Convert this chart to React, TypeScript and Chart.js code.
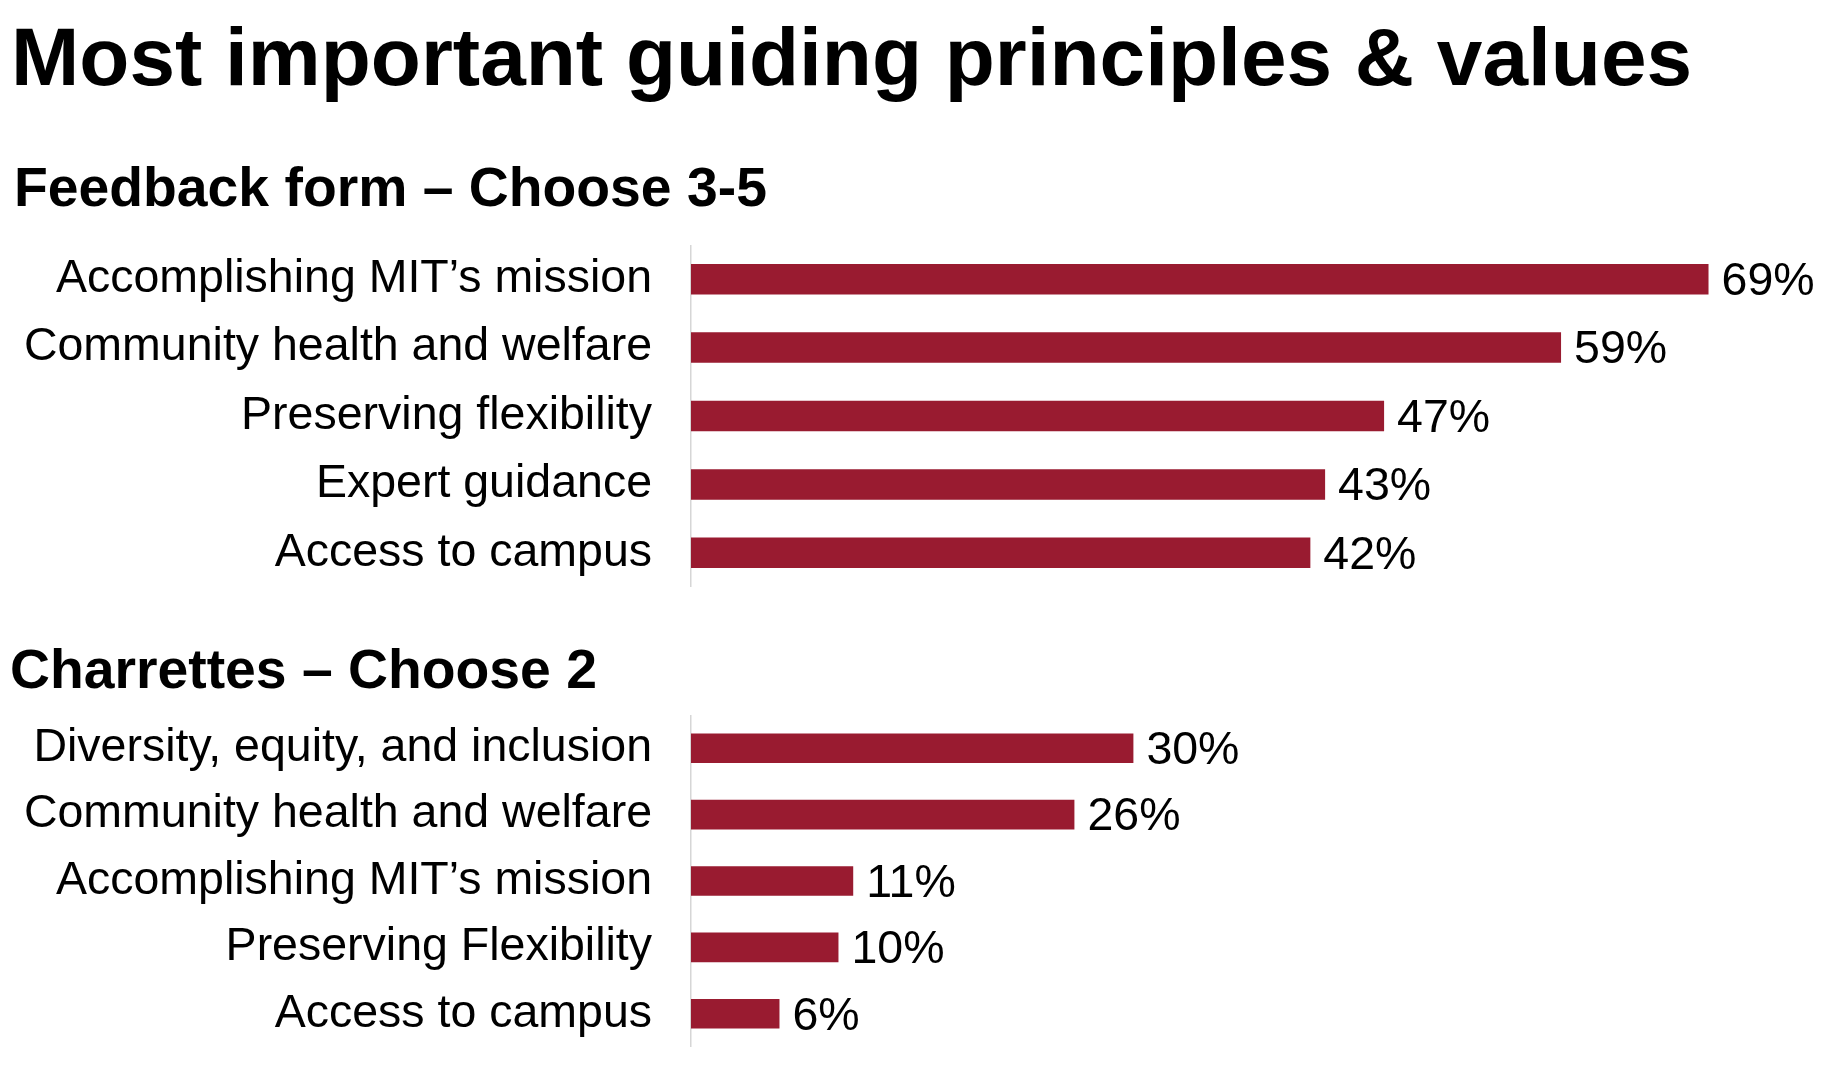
import React, { useEffect, useRef } from "react";
import { Chart, registerables } from "chart.js";

Chart.register(...registerables);

const TITLE = "Most important guiding principles & values";
const SUBTITLE_1 = "Feedback form – Choose 3-5";
const SUBTITLE_2 = "Charrettes – Choose 2";

const feedbackCategories = [
  "Accomplishing MIT’s mission",
  "Community health and welfare",
  "Preserving flexibility",
  "Expert guidance",
  "Access to campus",
];
const feedbackValues = [69, 59, 47, 43, 42];

const charretteCategories = [
  "Diversity, equity, and inclusion",
  "Community health and welfare",
  "Accomplishing MIT’s mission",
  "Preserving Flexibility",
  "Access to campus",
];
const charretteValues = [30, 26, 11, 10, 6];

const X_MAX = 75;
const BAR_COLOR = "#991B30";
const FONT = "'Liberation Sans', Arial, Helvetica, sans-serif";
const LABEL_SIZE = 46.5;

const valueLabelPlugin = {
  id: "valueLabels",
  afterDatasetsDraw(chart: any) {
    const ctx = chart.ctx;
    const meta = chart.getDatasetMeta(0);
    const data = chart.data.datasets[0].data as number[];
    ctx.save();
    ctx.font = `${LABEL_SIZE}px ${FONT}`;
    ctx.fillStyle = "#000";
    ctx.textAlign = "left";
    ctx.textBaseline = "middle";
    meta.data.forEach((bar: any, i: number) => {
      ctx.fillText(`${data[i]}%`, bar.x + 13, bar.y + 3);
    });
    ctx.restore();
  },
};

function BarPanel({ labels, values, top, height }: { labels: string[]; values: number[]; top: number; height: number }) {
  const ref = useRef<HTMLCanvasElement | null>(null);
  useEffect(() => {
    if (!ref.current) return;
    const chart = new Chart(ref.current, {
      type: "bar",
      data: {
        labels,
        datasets: [
          {
            data: values,
            backgroundColor: BAR_COLOR,
            borderWidth: 0,
            barPercentage: 0.9,
            categoryPercentage: 0.496,
          },
        ],
      },
      options: {
        indexAxis: "y",
        animation: false,
        responsive: false,
        maintainAspectRatio: false,
        layout: { padding: { left: 0, right: 41, top: 0, bottom: 0 } },
        plugins: {
          legend: { display: false },
          tooltip: { enabled: false },
          title: { display: false },
        },
        scales: {
          x: {
            display: false,
            min: 0,
            max: X_MAX,
          },
          y: {
            afterFit(scale: any) {
              scale.width = 691;
              scale.paddingTop = 0;
              scale.paddingBottom = 0;
            },
            grid: { display: false, drawTicks: false },
            border: { display: true, color: "#d6d6d6", width: 1.5 },
            ticks: {
              color: "#000",
              padding: 39,
              font: { family: FONT, size: LABEL_SIZE },
            },
          },
        },
      },
      plugins: [valueLabelPlugin],
    });
    return () => chart.destroy();
  }, []);
  return (
    <canvas
      ref={ref}
      width={1838}
      height={height}
      style={{ position: "absolute", left: 0, top, width: 1838, height }}
    />
  );
}

export default function App() {
  const textBase: React.CSSProperties = {
    position: "absolute",
    fontFamily: FONT,
    fontWeight: 700,
    color: "#000",
    whiteSpace: "nowrap",
    margin: 0,
  };
  return (
    <div style={{ position: "absolute", left: 0, top: 0, width: 1838, height: 1091, background: "#fff", overflow: "hidden" }}>
      <div style={{ ...textBase, left: 11, top: 15.6, fontSize: 82, lineHeight: "82px" }}>{TITLE}</div>
      <div style={{ ...textBase, left: 14, top: 160, fontSize: 55.3, lineHeight: "55.3px" }}>{SUBTITLE_1}</div>
      <BarPanel labels={feedbackCategories} values={feedbackValues} top={245} height={342} />
      <div style={{ ...textBase, left: 10, top: 642, fontSize: 55.3, lineHeight: "55.3px" }}>{SUBTITLE_2}</div>
      <BarPanel labels={charretteCategories} values={charretteValues} top={715} height={332} />
    </div>
  );
}
